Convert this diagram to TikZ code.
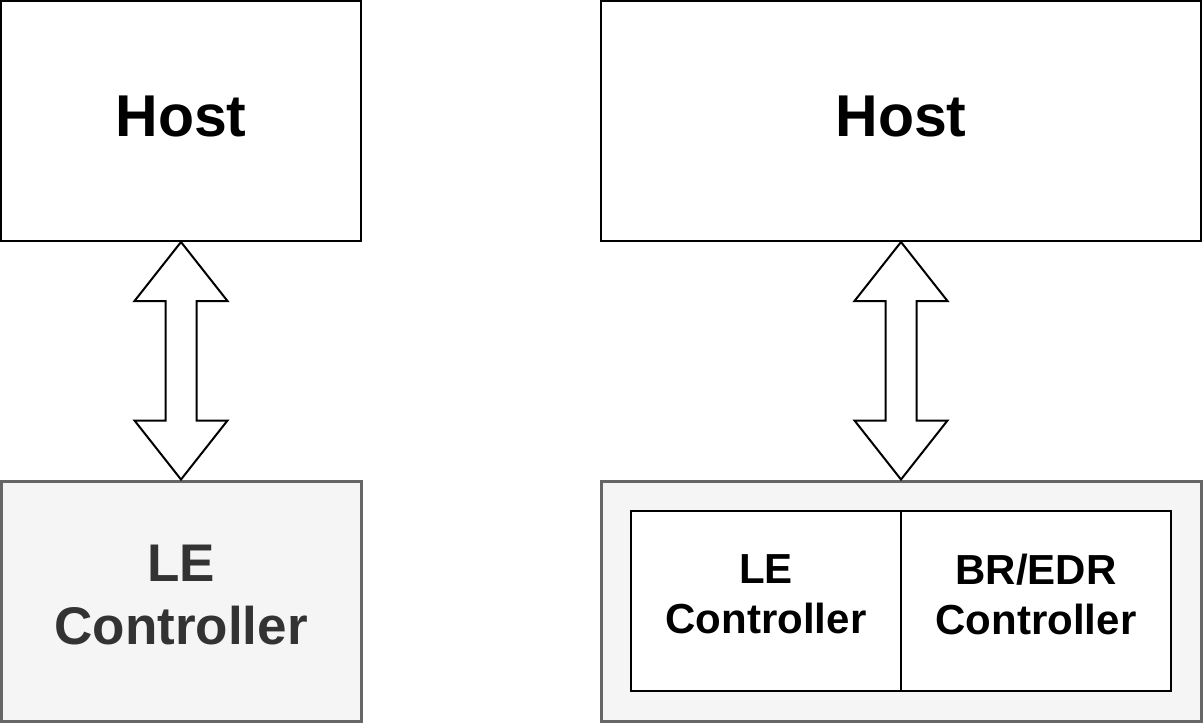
\documentclass[tikz,border=0pt]{standalone}
\usepackage{fontspec}
\setmainfont{Liberation Sans}
\usetikzlibrary{calc}
\definecolor{ctrlfill}{HTML}{F5F5F5}
\definecolor{ctrlline}{HTML}{666666}
\definecolor{ctrltext}{HTML}{333333}
\tikzset{
  hostbox/.style={draw=black, line width=2pt, fill=white, rectangle, inner sep=0pt},
  ctrlbox/.style={draw=ctrlline, line width=3pt, fill=ctrlfill, rectangle, inner sep=0pt},
  innerbox/.style={draw=black, line width=2.5pt, fill=white, rectangle, inner sep=0pt},
  hosttext/.style={font=\bfseries\fontsize{59}{70}\selectfont, inner sep=0pt, anchor=base},
  bigctrltext/.style={font=\bfseries\fontsize{53}{63}\selectfont, text=ctrltext, inner sep=0pt, anchor=north, align=center},
  smallctrltext/.style={font=\bfseries\fontsize{42}{50}\selectfont, text=black, inner sep=0pt, anchor=north, align=center},
  bigarrow/.style={draw=black, line width=2pt, fill=white, line join=miter}
}
\begin{document}
\begin{tikzpicture}[x=1pt,y=-1pt]
\useasboundingbox (0,0) rectangle (1203,726);
% boxes
\node[hostbox, minimum width=360pt, minimum height=240pt] (h1) at (181,121) {};
\node[hostbox, minimum width=600pt, minimum height=240pt] (h2) at (901,121) {};
\node[ctrlbox, minimum width=360pt, minimum height=240pt] (c1) at (181,601) {};
\node[ctrlbox, minimum width=600pt, minimum height=240pt] (c2) at (901,601) {};
\node[innerbox, minimum width=270pt, minimum height=180pt] (le) at (766,601) {};
\node[innerbox, minimum width=270pt, minimum height=180pt] (br) at (1036,601) {};
% texts
\node[hosttext] (h1t) at (181,136) {Host};
\node[hosttext] (h2t) at (901,136) {Host};
\node[bigctrltext] (c1t) at (181,545) {LE\\Controller};
\node[smallctrltext] (let) at (766,554) {LE\\Controller};
\node[smallctrltext] (brt) at (1036,554) {BR/EDR\\Controller};
% double arrows
\foreach \h/\c in {h1/c1, h2/c2}{
  \draw[bigarrow] (\h.south)
    -- ($(\h.south)+(46.5,59)$)
    -- ($(\h.south)+(15.5,59)$)
    -- ($(\c.north)+(15.5,-59)$)
    -- ($(\c.north)+(46.5,-59)$)
    -- (\c.north)
    -- ($(\c.north)+(-46.5,-59)$)
    -- ($(\c.north)+(-15.5,-59)$)
    -- ($(\h.south)+(-15.5,59)$)
    -- ($(\h.south)+(-46.5,59)$)
    -- cycle;
}
\end{tikzpicture}
\end{document}
